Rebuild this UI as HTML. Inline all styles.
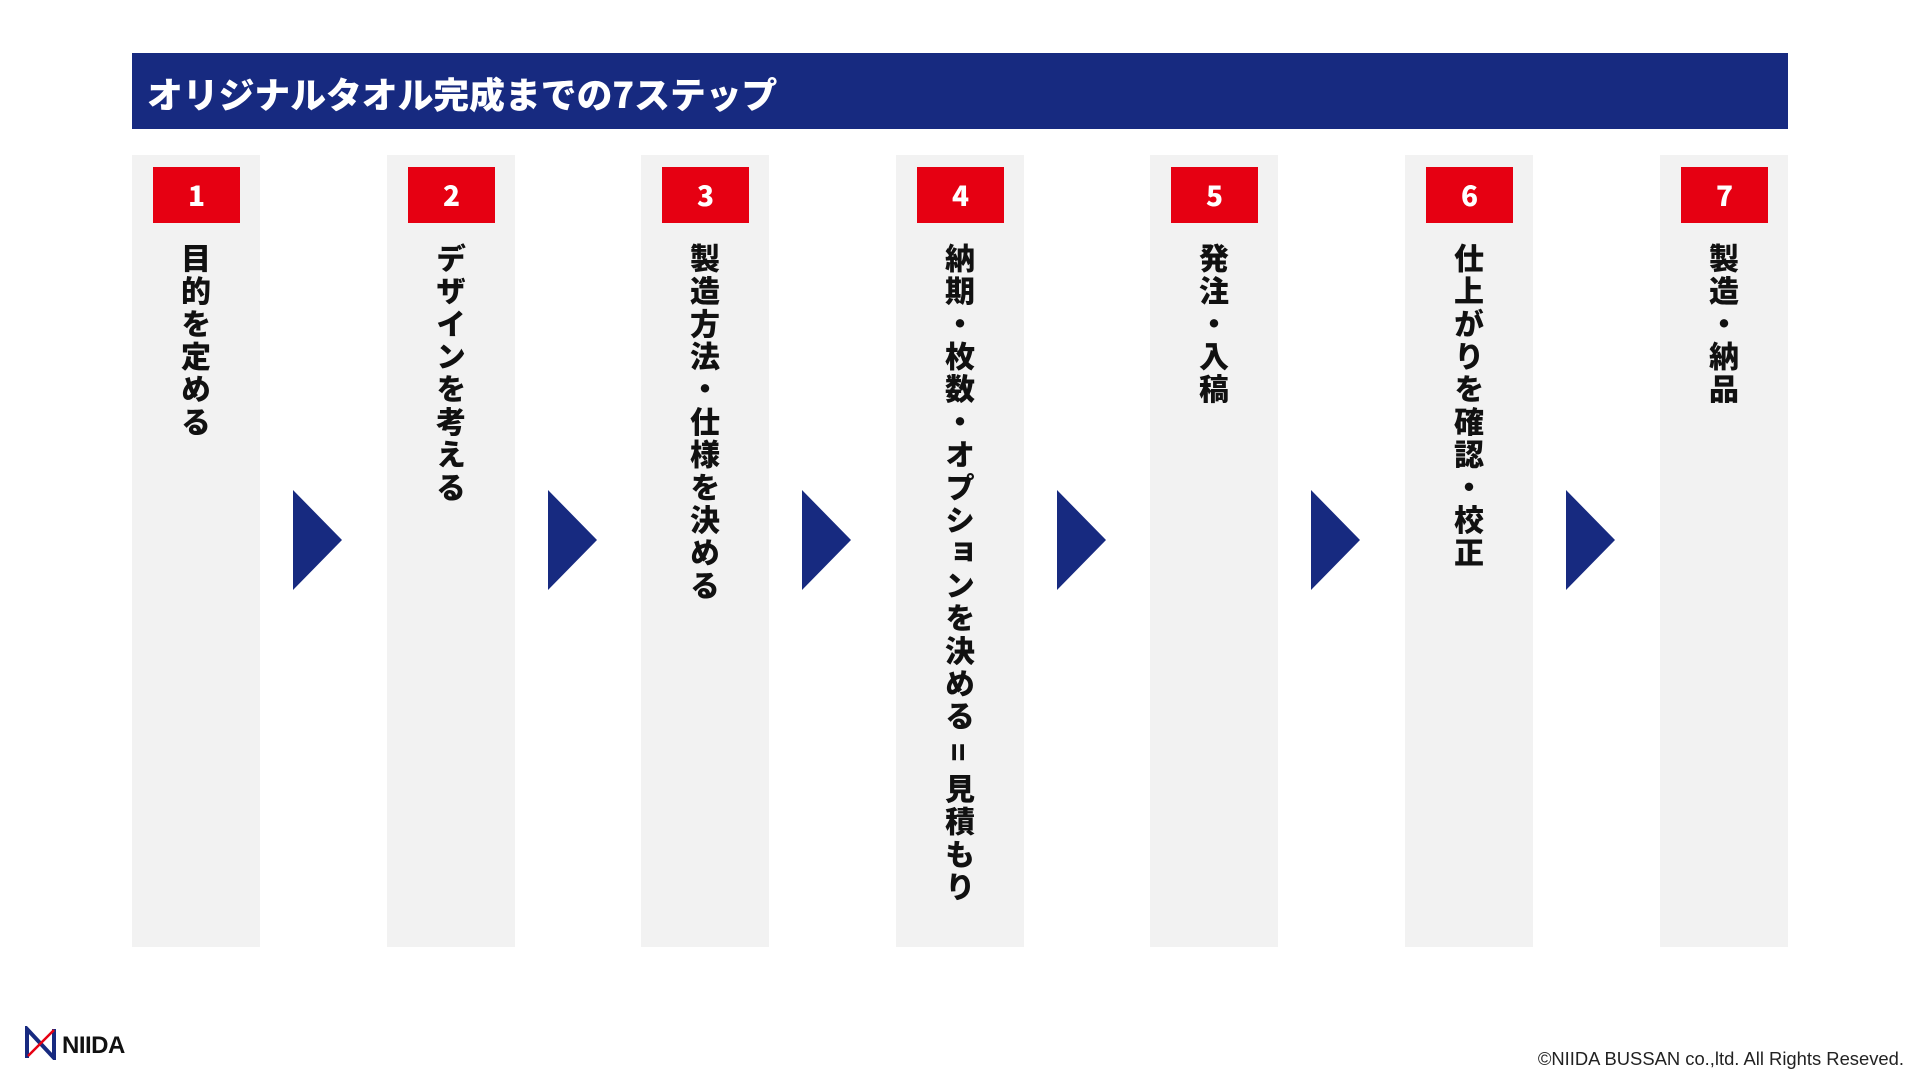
<!DOCTYPE html>
<html><head><meta charset="utf-8"><style>
body{margin:0;width:1920px;height:1080px;background:#fff;position:relative;overflow:hidden;font-family:"Liberation Sans","Noto Sans CJK JP",sans-serif}
.hdr{position:absolute;left:132px;top:53px;width:1656px;height:76px;background:#172a80;color:#fff;font-weight:900;font-size:35.8px;line-height:80px;box-sizing:border-box;padding-left:15px;font-family:"Noto Sans CJK JP",sans-serif;overflow:hidden}
.col{position:absolute;top:155px;width:128px;height:792px;background:#f2f2f2}
.num{position:absolute;left:21px;top:12px;width:87px;height:56px;background:#e60012;color:#fff;font-weight:900;font-size:28px;line-height:56px;text-align:center;font-family:"Noto Sans CJK JP",sans-serif}
.txt{position:absolute;left:0;width:128px;top:88px;display:flex;justify-content:center}
.txt span{writing-mode:vertical-rl;font-family:"Noto Sans CJK JP",sans-serif;font-weight:900;font-size:30px;letter-spacing:2.7px;color:#111}
.arr{position:absolute;top:490px;width:0;height:0;border-top:50px solid transparent;border-bottom:50px solid transparent;border-left:49px solid #172a80}
.copy{position:absolute;right:16px;top:1048px;font-size:18.4px;color:#222}
</style></head><body>
<div class="hdr">オリジナルタオル完成までの7ステップ</div>

<div class="col" style="left:132px"><div class="num">1</div><div class="txt"><span>目的を定める</span></div></div>
<div class="col" style="left:387px"><div class="num">2</div><div class="txt"><span>デザインを考える</span></div></div>
<div class="col" style="left:641px"><div class="num">3</div><div class="txt"><span>製造方法・仕様を決める</span></div></div>
<div class="col" style="left:896px"><div class="num">4</div><div class="txt"><span>納期・枚数・オプションを決める = 見積もり</span></div></div>
<div class="col" style="left:1150px"><div class="num">5</div><div class="txt"><span>発注・入稿</span></div></div>
<div class="col" style="left:1405px"><div class="num">6</div><div class="txt"><span>仕上がりを確認・校正</span></div></div>
<div class="col" style="left:1660px"><div class="num">7</div><div class="txt"><span>製造・納品</span></div></div>

<div class="arr" style="left:293px"></div>
<div class="arr" style="left:548px"></div>
<div class="arr" style="left:802px"></div>
<div class="arr" style="left:1057px"></div>
<div class="arr" style="left:1311px"></div>
<div class="arr" style="left:1566px"></div>

<svg style="position:absolute;left:24px;top:1026px" width="34" height="34" viewBox="0 0 34 34">
<path d="M3 32 V3 L30 32 V3" fill="none" stroke="#172a80" stroke-width="4"/>
<line x1="4" y1="30" x2="30" y2="4" stroke="#e60012" stroke-width="2.5"/>
</svg>
<div style="position:absolute;left:62px;top:1032px;font-weight:bold;font-size:24px;color:#111;letter-spacing:-0.5px">NIIDA</div>
<div class="copy">©NIIDA BUSSAN co.,ltd. All Rights Reseved.</div>
</body></html>
